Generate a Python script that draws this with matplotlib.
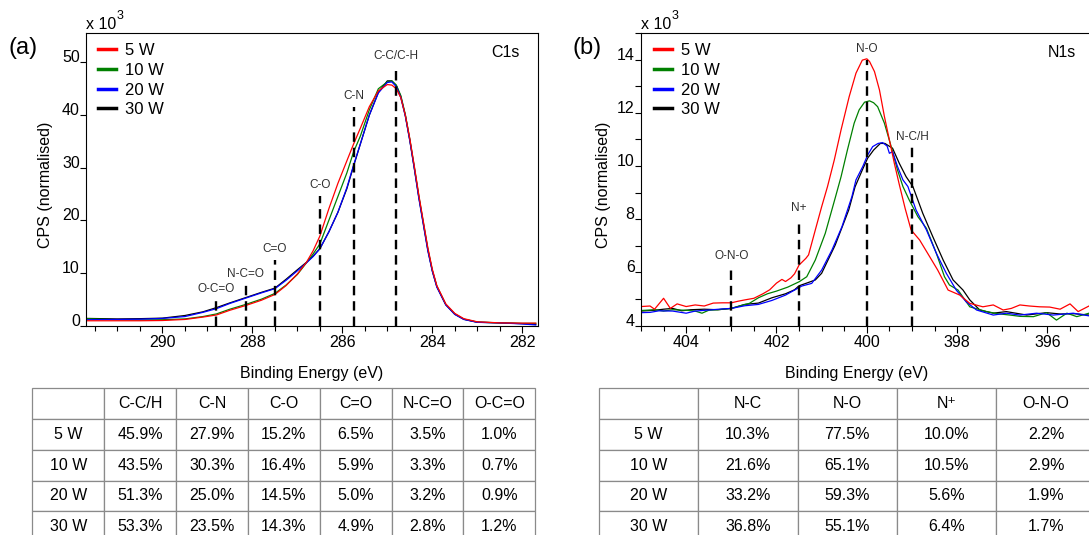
import numpy as np
import matplotlib.pyplot as plt
from matplotlib.lines import Line2D
from matplotlib.ticker import MultipleLocator

plt.rcParams['font.family'] = ['Liberation Sans', 'DejaVu Sans']

powers = ['5 W', '10 W', '20 W', '30 W']
colors = ['#ff0000', '#008000', '#0000ff', '#000000']

# ---- C1s spectra (x10^3 counts, normalised) ----
c1s_be = [281.7, 282.0, 282.5, 283.0, 283.3, 283.5, 283.7, 283.9, 284.0, 284.1,
          284.2, 284.3, 284.4, 284.5, 284.6, 284.7, 284.8, 284.9, 285.0, 285.2,
          285.4, 285.6, 285.75, 285.9, 286.1, 286.3, 286.5, 286.65, 286.8, 287.0,
          287.25, 287.5, 287.8, 288.15, 288.5, 288.8, 289.1, 289.5, 290.0, 290.5,
          291.0, 291.7]
c1s_5w = [0.45, 0.45, 0.5, 0.7, 1.3, 2.3, 4.1, 7.6, 10.7, 14.8, 19.8, 24.8, 30.3, 35.5,
          40.0, 43.3, 45.0, 45.7, 45.8, 44.6, 41.6, 37.5, 34.5, 31.3, 27.0, 22.2, 17.0,
          14.2, 12.0, 9.8, 7.6, 5.9, 4.8, 3.8, 2.9, 2.0, 1.6, 1.15, 0.95, 0.9, 0.9, 0.9]
c1s_10w = [0.4, 0.4, 0.5, 0.65, 1.2, 2.2, 4.0, 7.5, 10.5, 14.6, 19.6, 24.6, 30.1, 35.4,
           40.1, 43.7, 45.7, 46.5, 46.3, 45.0, 41.0, 36.0, 33.0, 29.0, 24.5, 20.0, 15.5,
           13.6, 11.9, 9.7, 7.7, 6.1, 5.0, 4.0, 3.1, 2.2, 1.7, 1.25, 1.1, 1.05, 1.1, 1.3]
c1s_20w = [0.1, 0.3, 0.5, 0.6, 1.15, 2.1, 3.9, 7.3, 10.3, 14.2, 19.2, 24.2, 29.8, 35.1,
           39.8, 43.3, 45.4, 46.3, 46.2, 44.2, 40.0, 34.5, 30.5, 26.2, 21.5, 17.8, 14.6,
           13.1, 11.9, 10.4, 8.6, 7.0, 6.2, 5.2, 4.2, 3.2, 2.5, 1.7, 1.35, 1.2, 1.15, 1.1]
c1s_30w = [0.2, 0.35, 0.5, 0.62, 1.2, 2.15, 3.95, 7.4, 10.4, 14.4, 19.4, 24.4, 29.9, 35.2,
           39.9, 43.5, 45.6, 46.5, 46.5, 44.3, 40.0, 34.5, 30.3, 26.0, 21.5, 17.8, 14.6,
           13.2, 12.0, 10.6, 8.8, 7.1, 6.3, 5.3, 4.3, 3.4, 2.6, 1.9, 1.4, 1.3, 1.25, 1.35]

c1s_peaks = ['O-C=O', 'N-C=O', 'C=O', 'C-O', 'C-N', 'C-C/C-H']
c1s_peak_be = [288.8, 288.15, 287.5, 286.5, 285.75, 284.8]
c1s_peak_top = [4.9, 7.8, 12.4, 24.6, 41.5, 49.1]

# ---- N1s spectra ----
n1s_5w_be = [405.0, 404.8, 404.7, 404.5, 404.35, 404.2, 404.0, 403.8, 403.6, 403.4,
             403.2, 403.0, 402.85, 402.7, 402.5, 402.3, 402.15, 402.0, 401.88, 401.8,
             401.68, 401.6, 401.5, 401.35, 401.29, 401.14, 401.0, 400.87, 400.72, 400.57,
             400.39, 400.24, 400.1, 400.0, 399.94, 399.83, 399.72, 399.61, 399.5, 399.39,
             399.28, 399.15, 399.02, 398.83, 398.61, 398.43, 398.2, 397.94, 397.72, 397.43,
             397.2, 396.98, 396.8, 396.61, 396.4, 396.17, 395.95, 395.72, 395.5, 395.32,
             395.08]
n1s_5w = [4.72, 4.74, 4.62, 5.03, 4.65, 4.82, 4.72, 4.78, 4.74, 4.85,
          4.86, 4.86, 4.92, 4.97, 5.03, 5.2, 5.35, 5.6, 5.74, 5.66,
          5.8, 5.95, 6.28, 6.53, 6.66, 7.6, 8.47, 9.23, 10.23, 11.36,
          12.61, 13.49, 13.98, 14.03, 13.93, 13.55, 12.86, 11.86, 10.98, 10.1,
          9.3, 8.4, 7.6, 7.22, 6.6, 6.09, 5.34, 5.15, 4.84, 4.71,
          4.78, 4.59, 4.65, 4.78, 4.74, 4.71, 4.7, 4.62, 4.82, 4.53,
          4.74]
n1s_10w_be = [405.0, 404.7, 404.5, 404.3, 404.0, 403.8, 403.65, 403.5, 403.3, 403.0,
              402.8, 402.6, 402.4, 402.2, 402.0, 401.75, 401.5, 401.33, 401.14, 400.92,
              400.7, 400.57, 400.43, 400.28, 400.17, 400.05, 399.94, 399.85, 399.76, 399.61,
              399.46, 399.32, 399.2, 399.06, 398.87, 398.68, 398.46, 398.28, 398.17, 397.98,
              397.72, 397.35, 397.1, 396.83, 396.6, 396.31, 396.02, 395.8, 395.57, 395.35,
              395.08]
n1s_10w = [4.57, 4.6, 4.55, 4.6, 4.58, 4.55, 4.47, 4.58, 4.6, 4.65,
           4.75, 4.84, 5.05, 5.2, 5.3, 5.45, 5.65, 5.84, 6.47, 7.47,
           8.8, 9.6, 10.6, 11.61, 12.11, 12.4, 12.45, 12.38, 12.23, 11.61,
           10.73, 9.85, 9.23, 8.72, 8.1, 7.66, 6.72, 5.84, 5.53, 5.34,
           4.71, 4.53, 4.45, 4.4, 4.35, 4.34, 4.49, 4.21, 4.47, 4.34,
           4.47]
n1s_20w_be = [405.0, 404.8, 404.6, 404.3, 404.0, 403.8, 403.5, 403.2, 403.0, 402.7,
              402.4, 402.1, 401.8, 401.44, 401.22, 401.0, 400.77, 400.55, 400.33, 400.24,
              400.09, 399.98, 399.87, 399.75, 399.65, 399.55, 399.5, 399.43, 399.32, 399.2,
              399.09, 398.91, 398.68, 398.46, 398.24, 398.02, 397.8, 397.57, 397.2, 396.91,
              396.61, 396.24, 395.87, 395.43, 395.08]
n1s_20w = [4.49, 4.5, 4.56, 4.55, 4.47, 4.55, 4.59, 4.63, 4.65, 4.75,
           4.8, 4.95, 5.15, 5.49, 5.59, 6.09, 6.85, 7.72, 8.85, 9.48,
           9.98, 10.42, 10.73, 10.85, 10.88, 10.75, 10.48, 10.54, 9.98, 9.48,
           9.23, 8.35, 7.6, 6.72, 5.97, 5.34, 4.9, 4.59, 4.4, 4.47,
           4.4, 4.47, 4.4, 4.47, 4.37]
n1s_30w_be = [405.0, 404.7, 404.5, 404.3, 404.1, 403.9, 403.6, 403.3, 403.0, 402.7,
              402.4, 402.1, 401.8, 401.6, 401.5, 401.3, 401.14, 401.0, 400.7, 400.4,
              400.26, 400.1, 399.98, 399.85, 399.7, 399.6, 399.43, 399.28, 399.13, 398.98,
              398.76, 398.54, 398.31, 398.09, 397.87, 397.72, 397.5, 397.2, 396.91, 396.46,
              396.02, 395.72, 395.4, 395.08]
n1s_30w = [4.55, 4.58, 4.62, 4.65, 4.56, 4.6, 4.62, 4.6, 4.65, 4.8,
           4.85, 5.05, 5.2, 5.35, 5.5, 5.62, 5.72, 5.97, 7.03, 8.35,
           9.22, 9.85, 10.3, 10.6, 10.85, 10.85, 10.67, 10.1, 9.6, 9.23,
           8.22, 7.35, 6.47, 5.72, 5.34, 4.97, 4.59, 4.47, 4.53, 4.4,
           4.49, 4.44, 4.45, 4.4]

n1s_peaks = ['O-N-O', 'N+', 'N-O', 'N-C/H']
n1s_peak_be = [403.0, 401.5, 400.0, 399.0]
n1s_peak_top = [6.2, 8.0, 14.0, 10.7]

# ---- fitted component tables ----
c1s_cols = ['', 'C-C/H', 'C-N', 'C-O', 'C=O', 'N-C=O', 'O-C=O']
c1s_table = [['45.9%', '27.9%', '15.2%', '6.5%', '3.5%', '1.0%'],
             ['43.5%', '30.3%', '16.4%', '5.9%', '3.3%', '0.7%'],
             ['51.3%', '25.0%', '14.5%', '5.0%', '3.2%', '0.9%'],
             ['53.3%', '23.5%', '14.3%', '4.9%', '2.8%', '1.2%']]
n1s_cols = ['', 'N-C', 'N-O', 'N\u207a', 'O-N-O']
n1s_table = [['10.3%', '77.5%', '10.0%', '2.2%'],
             ['21.6%', '65.1%', '10.5%', '2.9%'],
             ['33.2%', '59.3%', '5.6%', '1.9%'],
             ['36.8%', '55.1%', '6.4%', '1.7%']]

W, H = 1089, 535
fig = plt.figure(figsize=(W / 100, H / 100), dpi=100)


def px_axes(l, t, r, b):
    return fig.add_axes([l / W, 1 - b / H, (r - l) / W, (b - t) / H])


def style_axes(ax, ylim_major, ylim_minor):
    ax.xaxis.set_major_locator(MultipleLocator(2))
    ax.xaxis.set_minor_locator(MultipleLocator(0.5))
    ax.yaxis.set_major_locator(MultipleLocator(ylim_major))
    if ylim_minor:
        ax.yaxis.set_minor_locator(MultipleLocator(ylim_minor))
    ax.tick_params(axis='x', which='major', direction='out', length=5, width=0.8,
                   labelsize=11.5, pad=2)
    ax.tick_params(axis='x', which='minor', direction='out', length=3.5, width=0.8)
    ax.tick_params(axis='y', which='both', direction='out', length=4, width=0.8,
                   labelsize=11.5, pad=0.5)
    for lab in ax.get_yticklabels():
        lab.set_verticalalignment('baseline')
    for s in ax.spines.values():
        s.set_linewidth(0.8)
    ax.set_xlabel('Binding Energy (eV)', fontsize=11.5)
    ax.set_ylabel('CPS (normalised)', fontsize=11.5)


def legend(ax, x0):
    handles = [Line2D([], [], color=c, lw=2.5) for c in colors]
    ax.legend(handles, powers, loc='upper left', bbox_to_anchor=(x0, 0.965),
              frameon=False, fontsize=12, handlelength=1.1, handletextpad=0.55,
              labelspacing=0.28, borderpad=0, borderaxespad=0)


def peaks(ax, names, be, tops, ymin):
    ax.vlines(be, ymin, tops, colors='k', linestyles=(0, (4, 2.5)), lw=1.7, zorder=5)
    for n, x, t in zip(names, be, tops):
        ax.annotate(n, (x, t), xytext=(0, 3.5), textcoords='offset points',
                    ha='center', va='bottom', fontsize=8.5, color='#303030')


def table(ax, cols, rows):
    ax.axis('off')
    cells = [[p] + r for p, r in zip(powers, rows)]
    tb = ax.table(cellText=cells, colLabels=cols, cellLoc='center', bbox=[0, 0, 1, 1])
    tb.auto_set_font_size(False)
    tb.set_fontsize(11.5)
    for cell in tb.get_celld().values():
        cell.set_edgecolor('#8a8a8a')
        cell.set_linewidth(0.9)


# ---------- panel (a) ----------
ax1 = px_axes(86, 33, 538, 325.5)
for y, c in zip([c1s_30w, c1s_10w, c1s_20w, c1s_5w], [colors[3], colors[1], colors[2], colors[0]]):
    ax1.plot(c1s_be, y, color=c, lw=0.9)
ax1.set_xlim(291.7, 281.65)
ax1.set_ylim(0, 55.6)
style_axes(ax1, 10, None)
ax1.xaxis.set_label_coords(0.5, -0.138)
ax1.yaxis.set_label_coords(-0.073, 0.48)
peaks(ax1, c1s_peaks, c1s_peak_be, c1s_peak_top, 0)
legend(ax1, 0.026)
ax1.text(0.96, 0.932, 'C1s', transform=ax1.transAxes, ha='right', va='center', fontsize=11.5)
ax1.annotate('x 10', (0, 1), xycoords='axes fraction', xytext=(0, 1),
             textcoords='offset points', ha='left', va='bottom', fontsize=11.5)
ax1.annotate('3', (0, 1), xycoords='axes fraction', xytext=(22, 8),
             textcoords='offset points', ha='left', va='bottom', fontsize=9)

# ---------- panel (b) ----------
ax2 = px_axes(641, 33, 1089, 325.7)
for x, y, c in zip([n1s_30w_be, n1s_10w_be, n1s_20w_be, n1s_5w_be],
                   [n1s_30w, n1s_10w, n1s_20w, n1s_5w],
                   [colors[3], colors[1], colors[2], colors[0]]):
    ax2.plot(x, y, color=c, lw=0.9)
ax2.set_xlim(405, 395.08)
ax2.set_ylim(4, 15)
style_axes(ax2, 2, 1)
ax2.spines['right'].set_visible(False)
ax2.xaxis.set_label_coords(0.482, -0.138)
ax2.yaxis.set_label_coords(-0.067, 0.48)
peaks(ax2, n1s_peaks, n1s_peak_be, n1s_peak_top, 4)
legend(ax2, 0.029)
ax2.text(0.971, 0.932, 'N1s', transform=ax2.transAxes, ha='right', va='center', fontsize=11.5)
ax2.annotate('x 10', (0, 1), xycoords='axes fraction', xytext=(0, 1),
             textcoords='offset points', ha='left', va='bottom', fontsize=11.5)
ax2.annotate('3', (0, 1), xycoords='axes fraction', xytext=(22, 8),
             textcoords='offset points', ha='left', va='bottom', fontsize=9)

fig.text(23 / W, 1 - 48 / H, '(a)', ha='center', va='center', fontsize=17)
fig.text(587 / W, 1 - 48 / H, '(b)', ha='center', va='center', fontsize=17)

# ---------- tables ----------
table(px_axes(32.3, 387.8, 535.3, 542.3), c1s_cols, c1s_table)
table(px_axes(598.8, 387.8, 1095.8, 542.3), n1s_cols, n1s_table)

fig.savefig('out.png', dpi=100)
